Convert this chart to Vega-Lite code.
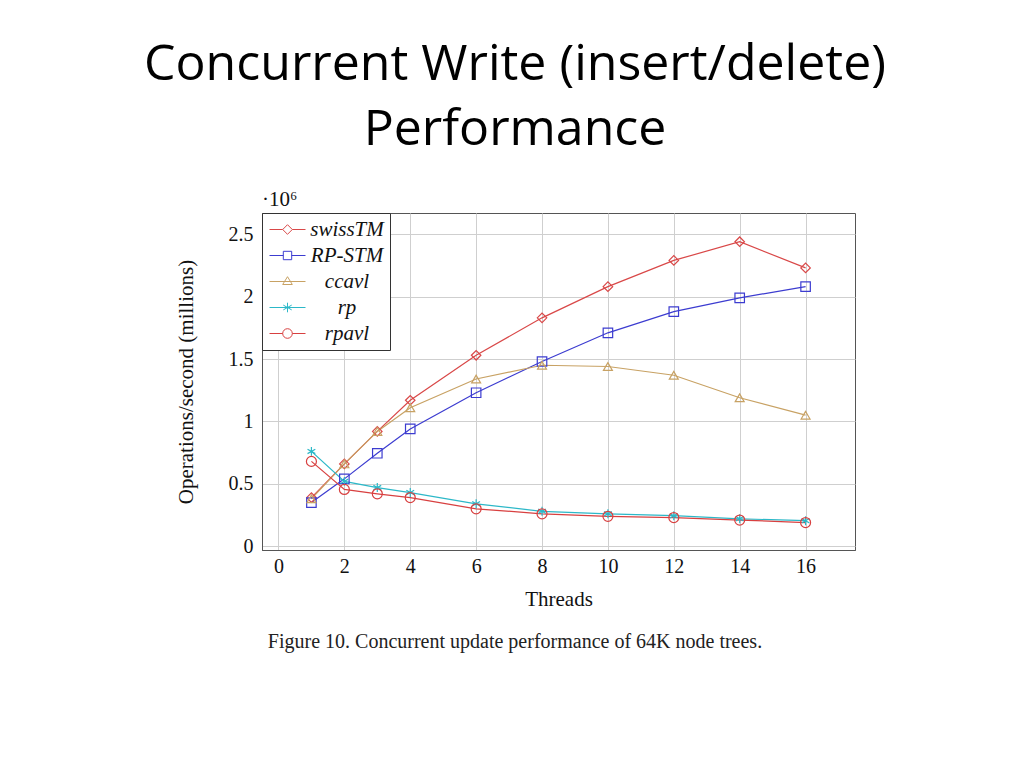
{
  "$schema": "https://vega.github.io/schema/vega-lite/v6.json",
  "background": "white",
  "padding": {"left": 144, "top": 39, "right": 10, "bottom": 10},
  "title": {
    "text": ["Concurrent Write (insert/delete)", "Performance"],
    "font": "Open Sans",
    "fontSize": 50,
    "fontWeight": "normal",
    "color": "black",
    "lineHeight": 65,
    "anchor": "middle",
    "frame": "bounds",
    "offset": 34
  },
  "config": {
    "view": {"stroke": "#555"},
    "axis": {
      "labelFont": "Liberation Serif",
      "titleFont": "Liberation Serif",
      "labelFontSize": 20,
      "titleFontSize": 21,
      "labelColor": "#111",
      "titleColor": "#111",
      "titleFontWeight": "normal",
      "gridColor": "#cfcfcf",
      "domainColor": "#555",
      "ticks": false
    }
  },
  "vconcat": [
    {
      "title": {
        "text": "Figure 10. Concurrent update performance of 64K node trees.",
        "orient": "bottom",
        "font": "Liberation Serif",
        "fontSize": 20,
        "fontWeight": "normal",
        "color": "#222",
        "anchor": "middle",
        "frame": "bounds",
        "offset": 22
      },
      "vconcat": [
        {
          "width": 593,
          "height": 337,
          "title": {
            "text": "·10⁶",
            "orient": "top",
            "anchor": "start",
            "frame": "group",
            "font": "Liberation Serif",
            "fontSize": 21,
            "fontWeight": "normal",
            "color": "#111",
            "offset": 3
          },
          "data": {
            "values": [
              {"series": "swissTM", "threads": 1, "ops": 0.39},
              {"series": "swissTM", "threads": 2, "ops": 0.66},
              {"series": "swissTM", "threads": 3, "ops": 0.92},
              {"series": "swissTM", "threads": 4, "ops": 1.17},
              {"series": "swissTM", "threads": 6, "ops": 1.53},
              {"series": "swissTM", "threads": 8, "ops": 1.83},
              {"series": "swissTM", "threads": 10, "ops": 2.08},
              {"series": "swissTM", "threads": 12, "ops": 2.29},
              {"series": "swissTM", "threads": 14, "ops": 2.44},
              {"series": "swissTM", "threads": 16, "ops": 2.23},
              {"series": "RP-STM", "threads": 1, "ops": 0.35},
              {"series": "RP-STM", "threads": 2, "ops": 0.54},
              {"series": "RP-STM", "threads": 3, "ops": 0.745},
              {"series": "RP-STM", "threads": 4, "ops": 0.94},
              {"series": "RP-STM", "threads": 6, "ops": 1.23},
              {"series": "RP-STM", "threads": 8, "ops": 1.48},
              {"series": "RP-STM", "threads": 10, "ops": 1.71},
              {"series": "RP-STM", "threads": 12, "ops": 1.88},
              {"series": "RP-STM", "threads": 14, "ops": 1.99},
              {"series": "RP-STM", "threads": 16, "ops": 2.08},
              {"series": "ccavl", "threads": 1, "ops": 0.38},
              {"series": "ccavl", "threads": 2, "ops": 0.66},
              {"series": "ccavl", "threads": 3, "ops": 0.92},
              {"series": "ccavl", "threads": 4, "ops": 1.11},
              {"series": "ccavl", "threads": 6, "ops": 1.34},
              {"series": "ccavl", "threads": 8, "ops": 1.45},
              {"series": "ccavl", "threads": 10, "ops": 1.44},
              {"series": "ccavl", "threads": 12, "ops": 1.37},
              {"series": "ccavl", "threads": 14, "ops": 1.19},
              {"series": "ccavl", "threads": 16, "ops": 1.05},
              {"series": "rp", "threads": 1, "ops": 0.76},
              {"series": "rp", "threads": 2, "ops": 0.52},
              {"series": "rp", "threads": 3, "ops": 0.47},
              {"series": "rp", "threads": 4, "ops": 0.43},
              {"series": "rp", "threads": 6, "ops": 0.34},
              {"series": "rp", "threads": 8, "ops": 0.28},
              {"series": "rp", "threads": 10, "ops": 0.26},
              {"series": "rp", "threads": 12, "ops": 0.245},
              {"series": "rp", "threads": 14, "ops": 0.22},
              {"series": "rp", "threads": 16, "ops": 0.205},
              {"series": "rpavl", "threads": 1, "ops": 0.68},
              {"series": "rpavl", "threads": 2, "ops": 0.455},
              {"series": "rpavl", "threads": 3, "ops": 0.42},
              {"series": "rpavl", "threads": 4, "ops": 0.39},
              {"series": "rpavl", "threads": 6, "ops": 0.30},
              {"series": "rpavl", "threads": 8, "ops": 0.26},
              {"series": "rpavl", "threads": 10, "ops": 0.24},
              {"series": "rpavl", "threads": 12, "ops": 0.23},
              {"series": "rpavl", "threads": 14, "ops": 0.21},
              {"series": "rpavl", "threads": 16, "ops": 0.19}
            ]
          },
          "encoding": {
            "x": {
              "field": "threads",
              "type": "quantitative",
              "title": "Threads",
              "scale": {"domain": [-0.5, 17.5], "nice": false, "zero": false},
              "axis": {"values": [0, 2, 4, 6, 8, 10, 12, 14, 16], "labelPadding": 6, "titlePadding": 12}
            },
            "y": {
              "field": "ops",
              "type": "quantitative",
              "title": "Operations/second (millions)",
              "scale": {"domain": [-0.03, 2.67], "nice": false, "zero": false},
              "axis": {"values": [0, 0.5, 1, 1.5, 2, 2.5], "format": "~g", "labelPadding": 9, "titlePadding": 32}
            },
            "color": {
              "field": "series",
              "type": "nominal",
              "sort": ["swissTM", "RP-STM", "ccavl", "rp", "rpavl"],
              "scale": {
                "domain": ["swissTM", "RP-STM", "ccavl", "rp", "rpavl"],
                "range": ["#d94848", "#3c3cd0", "#c8a264", "#2cb8c8", "#d84040"]
              },
              "legend": {
                "title": null,
                "orient": "top-left",
                "offset": 0,
                "padding": 6,
                "strokeColor": "#333",
                "fillColor": "white",
                "labelFont": "Liberation Serif",
                "labelFontStyle": "italic",
                "labelFontSize": 21,
                "labelColor": "#111",
                "labelAlign": "center",
                "labelOffset": 49,
                "symbolSize": 144,
                "symbolOffset": 9,
                "rowPadding": 4,
                "symbolStrokeWidth": 1,
                "encode": {
                  "symbols": {
                    "update": {
                      "shape": {"signal": "datum.value === 'swissTM' ? 'M-3,0H-0.8M0.8,0H3M0,-0.8L0.8,0L0,0.8L-0.8,0Z' : datum.value === 'RP-STM' ? 'M-3,0H-0.7M0.7,0H3M-0.7,-0.7H0.7V0.7H-0.7Z' : datum.value === 'ccavl' ? 'M-3,0H3M0,-0.8L0.8,0.5H-0.8Z' : datum.value === 'rp' ? 'M-3,0H3M0,-0.8V0.8M-0.7,-0.4L0.7,0.4M-0.7,0.4L0.7,-0.4' : 'M-3,0H-0.8M0.8,0H3M0.8,0A0.8,0.8,0,1,1,-0.8,0A0.8,0.8,0,1,1,0.8,0Z'"},
                      "fill": {"value": "transparent"},
                      "stroke": {"scale": "color", "field": "value"},
                      "strokeWidth": {"value": 1},
                      "opacity": {"value": 1}
                    }
                  }
                }
              }
            }
          },
          "layer": [
            {"mark": {"type": "line", "strokeWidth": 1.2}},
            {
              "transform": [{"filter": "datum.series === 'swissTM'"}],
              "mark": {"type": "point", "shape": "diamond", "filled": false, "strokeWidth": 1.2, "size": 90, "opacity": 1}
            },
            {
              "transform": [{"filter": "datum.series === 'RP-STM'"}],
              "mark": {"type": "point", "shape": "square", "filled": false, "strokeWidth": 1.2, "size": 90, "opacity": 1}
            },
            {
              "transform": [{"filter": "datum.series === 'ccavl'"}],
              "mark": {"type": "point", "shape": "triangle-up", "filled": false, "strokeWidth": 1.2, "size": 80, "opacity": 1}
            },
            {
              "transform": [{"filter": "datum.series === 'rp'"}],
              "mark": {"type": "point", "shape": "M0,-1V1M-0.87,-0.5L0.87,0.5M-0.87,0.5L0.87,-0.5", "filled": false, "strokeWidth": 1.2, "size": 80, "opacity": 1}
            },
            {
              "transform": [{"filter": "datum.series === 'rpavl'"}],
              "mark": {"type": "point", "shape": "circle", "filled": false, "strokeWidth": 1.2, "size": 100, "opacity": 1}
            }
          ]
        }
      ]
    }
  ]
}
